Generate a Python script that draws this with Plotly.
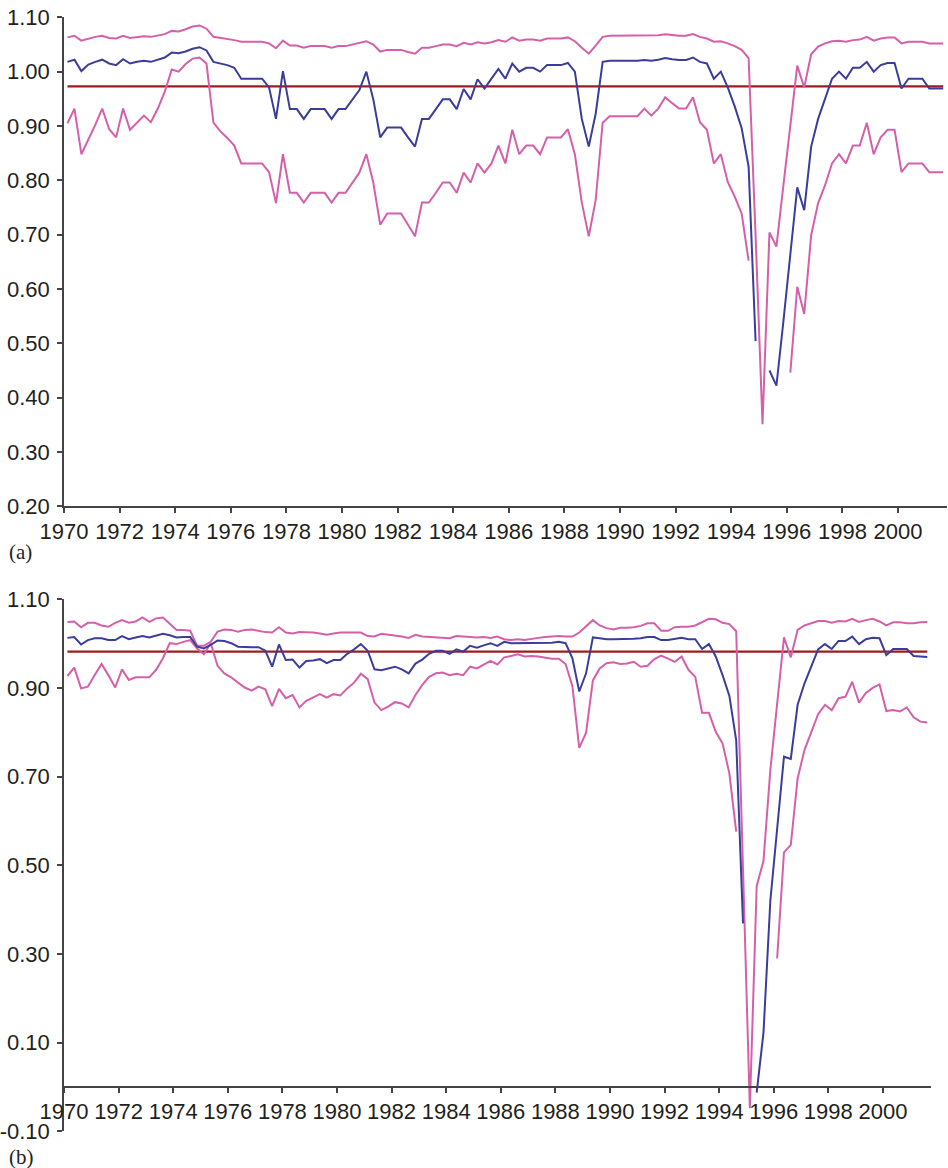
import plotly.graph_objects as go

# ---------------- data (quarterly, 1970Q1 .. 2001Q3) ----------------
N_QUARTERS = 127
START_YEAR = 1970

TICK_YEARS = [1970, 1972, 1974, 1976, 1978, 1980, 1982, 1984, 1986, 1988,
              1990, 1992, 1994, 1996, 1998, 2000]
TICK_YEAR_LABELS = [str(y) for y in TICK_YEARS]

A_YTICKS = [0.20, 0.30, 0.40, 0.50, 0.60, 0.70, 0.80, 0.90, 1.00, 1.10]
A_YTICK_LABELS = ["0.20", "0.30", "0.40", "0.50", "0.60", "0.70", "0.80", "0.90", "1.00", "1.10"]
B_YTICKS = [-0.10, 0.10, 0.30, 0.50, 0.70, 0.90, 1.10]
B_YTICK_LABELS = ["-0.10", "0.10", "0.30", "0.50", "0.70", "0.90", "1.10"]

A_THRESHOLD = 0.973
B_THRESHOLD = 0.982

# panel (a)
A_MID = [1.018, 1.022, 1.001, 1.013, 1.018, 1.022, 1.015, 1.012, 1.023, 1.015,
         1.018, 1.020, 1.018, 1.022, 1.026, 1.035, 1.034, 1.037, 1.042, 1.045,
         1.039, 1.018, 1.015, 1.012, 1.007, 0.987, 0.987, 0.987, 0.987, 0.971,
         0.913, 1.001, 0.931, 0.931, 0.913, 0.931, 0.931, 0.931, 0.913, 0.931,
         0.931, 0.948, 0.966, 1.000, 0.949, 0.879, 0.897, 0.897, 0.897, 0.879,
         0.862, 0.913, 0.913, 0.931, 0.949, 0.949, 0.931, 0.968, 0.949, 0.986,
         0.969, 0.987, 1.005, 0.987, 1.015, 1.000, 1.007, 1.007, 1.000, 1.012,
         1.012, 1.012, 1.016, 1.000, 0.913, 0.862, 0.923, 1.018, 1.020, 1.020,
         1.020, 1.020, 1.020, 1.0215, 1.020, 1.022, 1.025, 1.023, 1.0215, 1.0215,
         1.026, 1.018, 1.015, 0.987, 1.000, 0.971, 0.936, 0.896, 0.825, 0.504,
         None, 0.450, 0.422, 0.540, 0.665, 0.787, 0.745, 0.862, 0.913, 0.948,
         0.987, 1.000, 0.987, 1.007, 1.007, 1.018, 1.000, 1.012, 1.016, 1.016,
         0.969, 0.987, 0.987, 0.987, 0.969, 0.969, 0.969]

A_UP = [1.063, 1.066, 1.057, 1.061, 1.064, 1.066, 1.062, 1.061, 1.066, 1.062,
        1.064, 1.065, 1.064, 1.066, 1.069, 1.075, 1.074, 1.078, 1.083, 1.085,
        1.079, 1.064, 1.062, 1.061, 1.058, 1.055, 1.055, 1.055, 1.055, 1.052,
        1.043, 1.057, 1.048, 1.048, 1.044, 1.047, 1.047, 1.047, 1.044, 1.047,
        1.047, 1.050, 1.053, 1.056, 1.050, 1.037, 1.040, 1.040, 1.040, 1.036,
        1.033, 1.044, 1.044, 1.047, 1.050, 1.050, 1.047, 1.053, 1.050, 1.054,
        1.052, 1.054, 1.058, 1.055, 1.063, 1.057, 1.059, 1.059, 1.057, 1.061,
        1.061, 1.061, 1.063, 1.056, 1.044, 1.033, 1.048, 1.064, 1.066, 1.066,
        1.066, 1.066, 1.066, 1.067, 1.066, 1.067, 1.069, 1.067, 1.066, 1.066,
        1.069, 1.064, 1.061, 1.055, 1.056, 1.052, 1.047, 1.040, 1.025, 0.700,
        0.351, 0.704, 0.678, 0.790, 0.900, 1.011, 0.971, 1.032, 1.046, 1.052,
        1.056, 1.057, 1.055, 1.058, 1.059, 1.064, 1.057, 1.061, 1.063, 1.063,
        1.052, 1.055, 1.055, 1.055, 1.052, 1.052, 1.052]

A_LOW = [0.905, 0.932, 0.848, 0.874, 0.902, 0.932, 0.894, 0.879, 0.932, 0.893,
         0.906, 0.919, 0.907, 0.932, 0.963, 1.004, 1.000, 1.014, 1.024, 1.026,
         1.015, 0.906, 0.890, 0.878, 0.864, 0.831, 0.831, 0.831, 0.831, 0.815,
         0.758, 0.848, 0.777, 0.777, 0.759, 0.777, 0.777, 0.777, 0.759, 0.777,
         0.777, 0.796, 0.814, 0.848, 0.796, 0.718, 0.739, 0.739, 0.739, 0.718,
         0.697, 0.759, 0.759, 0.777, 0.796, 0.796, 0.777, 0.814, 0.796, 0.831,
         0.814, 0.831, 0.864, 0.831, 0.893, 0.848, 0.864, 0.864, 0.848, 0.879,
         0.879, 0.879, 0.894, 0.848, 0.759, 0.697, 0.764, 0.906, 0.918, 0.918,
         0.918, 0.918, 0.918, 0.932, 0.919, 0.932, 0.953, 0.942, 0.932, 0.932,
         0.953, 0.907, 0.893, 0.831, 0.848, 0.797, 0.770, 0.739, 0.652, None,
         None, None, None, None, 0.446, 0.604, 0.554, 0.699, 0.758, 0.791,
         0.831, 0.848, 0.831, 0.864, 0.864, 0.906, 0.848, 0.879, 0.893, 0.893,
         0.815, 0.831, 0.831, 0.831, 0.815, 0.815, 0.815]

# panel (b)
B_MID = [1.013, 1.015, 0.998, 1.008, 1.012, 1.012, 1.008, 1.008, 1.017, 1.010,
         1.014, 1.017, 1.014, 1.018, 1.022, 1.019, 1.014, 1.015, 1.015, 0.993,
         0.989, 0.997, 1.007, 1.006, 1.001, 0.993, 0.992, 0.992, 0.992, 0.984,
         0.948, 0.998, 0.963, 0.964, 0.946, 0.961, 0.962, 0.965, 0.956, 0.963,
         0.963, 0.977, 0.987, 0.999, 0.984, 0.942, 0.940, 0.944, 0.948, 0.942,
         0.933, 0.955, 0.964, 0.977, 0.984, 0.984, 0.977, 0.987, 0.982, 0.995,
         0.991, 0.996, 1.001, 0.995, 1.004, 1.001, 1.001, 1.001, 1.002, 1.002,
         1.002, 1.002, 1.004, 1.001, 0.967, 0.892, 0.933, 1.014, 1.012, 1.010,
         1.010, 1.010, 1.010, 1.011, 1.012, 1.015, 1.015, 1.008, 1.008, 1.010,
         1.013, 1.010, 1.010, 0.988, 0.999, 0.971, 0.929, 0.882, 0.782, 0.369,
         None, -0.013, 0.123, 0.420, 0.580, 0.745, 0.740, 0.862, 0.910, 0.948,
         0.987, 0.999, 0.988, 1.006, 1.006, 1.016, 0.999, 1.010, 1.013, 1.012,
         0.974, 0.988, 0.988, 0.988, 0.972, 0.971, 0.970]

B_UP = [1.049, 1.050, 1.037, 1.047, 1.047, 1.041, 1.038, 1.047, 1.053, 1.047,
        1.050, 1.059, 1.049, 1.057, 1.059, 1.046, 1.031, 1.031, 1.029, 0.995,
        0.995, 1.004, 1.027, 1.032, 1.031, 1.027, 1.031, 1.032, 1.029, 1.026,
        1.025, 1.037, 1.025, 1.023, 1.026, 1.026, 1.025, 1.023, 1.020, 1.023,
        1.025, 1.025, 1.025, 1.025, 1.017, 1.016, 1.022, 1.020, 1.019, 1.016,
        1.013, 1.020, 1.016, 1.015, 1.013, 1.013, 1.012, 1.017, 1.016, 1.014,
        1.014, 1.015, 1.013, 1.016, 1.010, 1.008, 1.010, 1.008, 1.011, 1.013,
        1.015, 1.016, 1.017, 1.016, 1.016, 1.025, 1.040, 1.053, 1.041, 1.035,
        1.032, 1.036, 1.036, 1.037, 1.040, 1.046, 1.046, 1.029, 1.029, 1.037,
        1.038, 1.038, 1.041, 1.048, 1.056, 1.055, 1.047, 1.044, 1.028, 0.490,
        -0.048, 0.453, 0.510, 0.715, 0.865, 1.014, 0.969, 1.031, 1.041, 1.046,
        1.051, 1.051, 1.047, 1.051, 1.050, 1.056, 1.049, 1.053, 1.056, 1.050,
        1.041, 1.048, 1.048, 1.046, 1.046, 1.048, 1.049]

B_LOW = [0.927, 0.946, 0.899, 0.903, 0.929, 0.954, 0.929, 0.901, 0.942, 0.918,
         0.924, 0.924, 0.924, 0.941, 0.967, 1.001, 0.999, 1.004, 1.008, 0.989,
         0.976, 1.001, 0.950, 0.933, 0.924, 0.912, 0.901, 0.894, 0.903, 0.897,
         0.859, 0.898, 0.877, 0.884, 0.856, 0.871, 0.879, 0.886, 0.878, 0.886,
         0.883, 0.899, 0.912, 0.932, 0.920, 0.867, 0.850, 0.858, 0.868, 0.865,
         0.856, 0.884, 0.907, 0.925, 0.933, 0.935, 0.929, 0.932, 0.929, 0.948,
         0.944, 0.952, 0.961, 0.953, 0.969, 0.972, 0.976, 0.971, 0.972, 0.971,
         0.968, 0.966, 0.966, 0.954, 0.904, 0.765, 0.799, 0.917, 0.944, 0.956,
         0.958, 0.954, 0.955, 0.959, 0.948, 0.950, 0.965, 0.973, 0.966, 0.959,
         0.971, 0.941, 0.925, 0.844, 0.844, 0.801, 0.775, 0.707, 0.576, None,
         None, None, None, None, 0.290, 0.529, 0.546, 0.696, 0.760, 0.800,
         0.841, 0.862, 0.850, 0.877, 0.880, 0.914, 0.867, 0.889, 0.900, 0.908,
         0.848, 0.850, 0.847, 0.856, 0.834, 0.824, 0.822]

# ---------------- styling ----------------
W, H = 948, 1168
BLUE = "#3a3d9a"
PINK = "#d560a9"
RED = "#a01a20"
AXIS = "#444444"
TXT = "#231f20"
FONT = "Liberation Sans, Arial, Helvetica, sans-serif"

# quarter mid-points (category centres)
X = [START_YEAR + (q + 0.5) / 4 for q in range(N_QUARTERS)]
X_END = START_YEAR + N_QUARTERS / 4

fig = go.Figure()


def add_panel(up, mid, low, thr, xa, ya):
    fig.add_trace(go.Scatter(x=X, y=[thr] * N_QUARTERS, mode="lines",
                             line=dict(color=RED, width=2.2), xaxis=xa, yaxis=ya,
                             showlegend=False, hoverinfo="skip"))
    for ys, col in ((up, PINK), (low, PINK), (mid, BLUE)):
        fig.add_trace(go.Scatter(x=X, y=ys, mode="lines",
                                 line=dict(color=col, width=2), xaxis=xa, yaxis=ya,
                                 connectgaps=False, showlegend=False))


add_panel(A_UP, A_MID, A_LOW, A_THRESHOLD, "x", "y")
add_panel(B_UP, B_MID, B_LOW, B_THRESHOLD, "x2", "y2")

common_axis = dict(showline=True, linecolor=AXIS, linewidth=1.5, showgrid=False,
                   zeroline=False, ticks="outside", ticklen=5, tickwidth=1.5,
                   tickcolor=AXIS, automargin=False,
                   tickfont=dict(family=FONT, size=22, color=TXT))

# pixel geometry
a_left, a_right, a_top, a_bottom = 64, 946.7, 17.3, 506.3
b_left, b_right, b_top, b_bottom = 64, 930.7, 599.3, 1131.3
b_zero = b_top + (1.10 - 0.0) / 1.20 * (b_bottom - b_top)

fig.update_layout(
    width=W, height=H, margin=dict(l=0, r=0, t=0, b=0, autoexpand=False),
    paper_bgcolor="white", plot_bgcolor="white",
    xaxis=dict(domain=[a_left / W, a_right / W], range=[START_YEAR, X_END],
               tickvals=TICK_YEARS, ticktext=TICK_YEAR_LABELS, anchor="y",
               ticklabelstandoff=0, **common_axis),
    yaxis=dict(domain=[1 - a_bottom / H, 1 - a_top / H], range=[0.2, 1.1],
               tickvals=A_YTICKS, ticktext=A_YTICK_LABELS, anchor="x",
               ticklabelstandoff=3, **common_axis),
    xaxis2=dict(domain=[b_left / W, b_right / W], range=[START_YEAR, X_END],
                tickvals=TICK_YEARS, ticktext=TICK_YEAR_LABELS, anchor="free",
                position=1 - b_zero / H, ticklabelstandoff=0, **common_axis),
    yaxis2=dict(domain=[1 - b_bottom / H, 1 - b_top / H], range=[-0.1, 1.1],
                tickvals=B_YTICKS, ticktext=B_YTICK_LABELS, anchor="x2",
                ticklabelstandoff=3, **common_axis),
    annotations=[
        dict(text="(a)", x=7 / W, y=1 - 551.5 / H, xref="paper", yref="paper",
             xanchor="left", yanchor="middle", showarrow=False,
             font=dict(family="Liberation Serif, Times New Roman, serif", size=21, color=TXT)),
        dict(text="(b)", x=7 / W, y=1 - 1156.5 / H, xref="paper", yref="paper",
             xanchor="left", yanchor="middle", showarrow=False,
             font=dict(family="Liberation Serif, Times New Roman, serif", size=21, color=TXT)),
    ],
)

fig.write_html("out.html")
